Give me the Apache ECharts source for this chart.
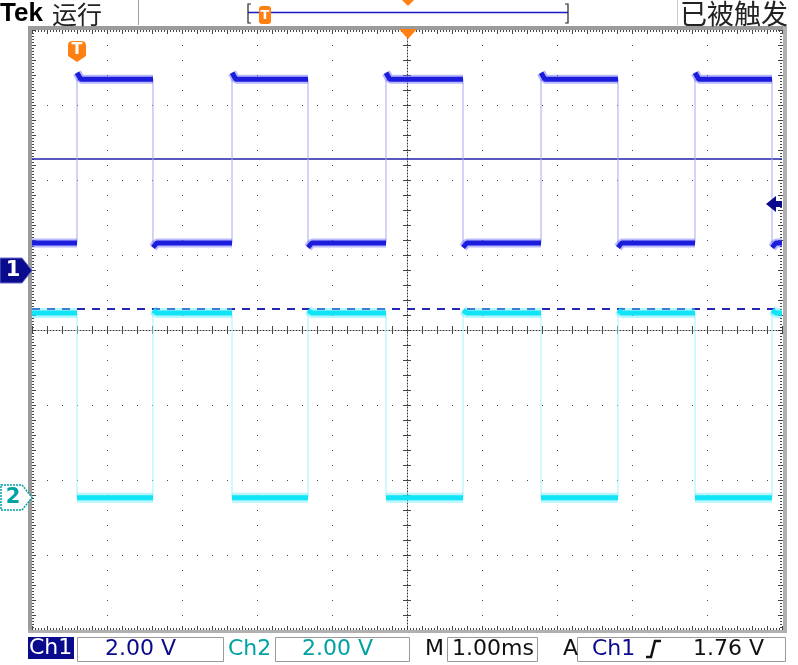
<!DOCTYPE html>
<html><head><meta charset="utf-8">
<script src="https://cdn.jsdelivr.net/npm/echarts@6/dist/echarts.min.js"></script>
<style>html,body{margin:0;padding:0;background:#fff}#c{width:798px;height:665px}</style>
</head><body><div id="c"></div>
<script>
// ---- data (time in ms, 0 = screen centre; levels in volts) ----
const riseTimes = [-4.40, -2.333, -0.28, 1.787, 3.84];   // Ch1 rising edges
const fallTimes = [-3.387, -1.32, 0.747, 2.813, 4.867];  // Ch1 falling edges
const ch1Levels = { high: 5.09, low: 0.72, highStart: 5.26, lowStart: 0.60 };
const ch2Levels = { high: 4.91, low: -0.02, highStart: 4.98, lowStart: -0.02 };
const settleMs = 0.05;
const timeRange = [-5, 5];
const ch1CursorLevels = { solid: 2.96, dashed: -1.02 };
const triggerLevel = 1.76;
const voltsPerDiv = 2;
const ch1OffsetDiv = 0.8, ch2OffsetDiv = -2.227;
const footerTexts = { ch1Scale: '2.00 V', ch2Scale: '2.00 V', time: '1.00ms', trig: '1.76 V' };

// ---- build waveforms ----
function buildLevels(lv, invert) {
  const out = [];
  const edges = [];
  riseTimes.forEach((r, i) => { edges.push({ t: r }); edges.push({ t: fallTimes[i] }); });
  edges.sort((a, b) => a.t - b.t);
  let prevT = timeRange[0], first = true;
  let state = invert; // Ch1 starts low, Ch2 starts high
  edges.concat([{ t: timeRange[1] }]).forEach(e => {
    const lvl = state ? lv.high : lv.low;
    if (!first) {
      out.push([prevT, state ? lv.highStart : lv.lowStart]);
      out.push([Math.min(prevT + settleMs, e.t), lvl]);
    } else out.push([prevT, lvl]);
    out.push([e.t, lvl]);
    out.push([e.t, null]);
    prevT = e.t; first = false; state = !state;
  });
  return out;
}
function buildSteps(lv) {
  const out = [];
  riseTimes.forEach((r, i) => {
    out.push([r, lv.low], [r, lv.high], [r, null]);
    out.push([fallTimes[i], lv.low], [fallTimes[i], lv.high], [fallTimes[i], null]);
  });
  return out;
}
const ch1Data = buildLevels(ch1Levels, false);
const ch2Data = buildLevels(ch2Levels, true);
const ch1Edges = buildSteps(ch1Levels);
const ch2Edges = buildSteps(ch2Levels);

const chart = echarts.init(document.getElementById('c'), null, { renderer: 'canvas' });
const G = { left: 32, top: 30, width: 750, height: 600 };
const dotGrid = { color: '#444', width: 1, type: [1, 14] };
const tickStyle = { color: '#444', width: 1 };
const ch1Axis = { min: (-4 - ch1OffsetDiv) * voltsPerDiv, max: (4 - ch1OffsetDiv) * voltsPerDiv };
const ch2Axis = { min: (-4 - ch2OffsetDiv) * voltsPerDiv, max: (4 - ch2OffsetDiv) * voltsPerDiv };
const hiddenAxis = { show: false, type: 'value', splitLine: { show: false } };

const font = '"DejaVu Sans", sans-serif';
const cjk = '"Noto Sans CJK SC", sans-serif';
const navy = '#0a0a8c', teal = '#00a2a2', orange = '#ff7f10';

function txt(x, y, s, fill, size, weight, family, align) {
  return { type: 'text', x, y, style: { text: s, fill, font: (weight || 'normal') + ' ' + size + 'px ' + (family || font), textVerticalAlign: 'middle', textAlign: align || 'left' }, z: 100 };
}
function box(x, y, w, h) {
  return { type: 'rect', shape: { x: x + 0.5, y: y + 0.5, width: w, height: h }, style: { fill: '#fff', stroke: '#9a9a9a', lineWidth: 1 }, z: 90 };
}

const graphics = [
  // frame
  { type: 'rect', shape: { x: 28, y: 26, width: 4, height: 607 }, style: { fill: '#9b9b9b' }, z: 50 },
  { type: 'rect', shape: { x: 28, y: 26, width: 759, height: 4 }, style: { fill: '#9b9b9b' }, z: 50 },
  { type: 'rect', shape: { x: 783, y: 26, width: 4, height: 607 }, style: { fill: '#b0b0b0' }, z: 50 },
  { type: 'rect', shape: { x: 28, y: 630, width: 759, height: 3 }, style: { fill: '#b0b0b0' }, z: 50 },
  // header
  txt(0, 14, 'Tek', '#000', 26, 'bold', '"Liberation Sans", sans-serif'),
  txt(52, 14, '运行', '#222', 25, 'normal', cjk),
  { type: 'line', shape: { x1: 138.5, y1: 0, x2: 138.5, y2: 25 }, style: { stroke: '#a0a0a0', lineWidth: 1 }, z: 60 },
  { type: 'line', shape: { x1: 677.5, y1: 0, x2: 677.5, y2: 25 }, style: { stroke: '#c8c8c8', lineWidth: 1 }, z: 60 },
  txt(680, 14, '已被触发', '#222', 27, 'normal', cjk),
  { type: 'polyline', shape: { points: [[251, 4], [248, 4], [248, 23], [251, 23]] }, style: { stroke: '#222', lineWidth: 1.2, fill: null }, z: 60 },
  { type: 'polyline', shape: { points: [[565, 4], [568, 4], [568, 23], [565, 23]] }, style: { stroke: '#222', lineWidth: 1.2, fill: null }, z: 60 },
  { type: 'line', shape: { x1: 248, y1: 12.5, x2: 568, y2: 12.5 }, style: { stroke: '#1a1ac0', lineWidth: 1.5 }, z: 60 },
  { type: 'rect', shape: { x: 259, y: 6, width: 12, height: 18, r: 3 }, style: { fill: orange }, z: 70 },
  txt(265, 15.5, 'T', '#fff', 13, 'bold', font, 'center'),
  { type: 'polygon', shape: { points: [[402, 0], [414, 0], [408, 6]] }, style: { fill: orange }, z: 70 },
  // orange markers in graticule
  { type: 'polygon', shape: { points: [[399, 29], [417, 29], [408, 39]] }, style: { fill: orange }, z: 70 },
  { type: 'polygon', shape: { points: [[68, 45], [69, 42], [72, 41], [82, 41], [85, 42], [86, 45], [86, 56], [77, 62], [68, 56]] }, style: { fill: orange }, z: 70 },
  txt(77, 50, 'T', '#fff', 16, 'bold', font, 'center'),
  // channel markers
  { type: 'polygon', shape: { points: [[0, 258], [22, 258], [32, 270.5], [22, 283], [0, 283]] }, style: { fill: navy, stroke: '#6a6ad0', lineWidth: 1 }, z: 70 },
  txt(13, 271, '1', '#fff', 21, 'bold', font, 'center'),
  { type: 'polygon', shape: { points: [[1, 485], [22, 485], [32, 497.5], [22, 510], [1, 510]] }, style: { fill: '#fff', stroke: teal, lineWidth: 1.5, lineDash: [2, 1] }, z: 70 },
  txt(13, 498, '2', teal, 21, 'bold', font, 'center'),
  // footer
  { type: 'rect', shape: { x: 28, y: 637, width: 46, height: 22 }, style: { fill: navy }, z: 90 },
  txt(29, 648, 'Ch1', '#fff', 22, 'normal'),
  box(77, 637, 146, 24), txt(105, 649, footerTexts.ch1Scale, navy, 22),
  txt(228, 649, 'Ch2', teal, 22),
  box(275, 637, 134, 24), txt(302, 649, footerTexts.ch2Scale, teal, 22),
  txt(425, 649, 'M', '#111', 22),
  box(447, 637, 90, 24), txt(452, 649, footerTexts.time, '#111', 22),
  txt(563, 649, 'A', '#111', 22),
  box(577, 637, 208, 24), txt(592, 649, 'Ch1', navy, 22),
  { type: 'polyline', shape: { points: [[646, 657], [651, 657], [655, 641], [661, 641]] }, style: { stroke: '#111', lineWidth: 2.5, fill: null }, z: 95 },
  txt(693, 649, footerTexts.trig, '#111', 22)
];

function borderX(pos) {
  return { type: 'value', min: timeRange[0], max: timeRange[1], interval: 0.2, position: pos,
    axisLine: { show: false, onZero: false }, axisTick: { show: true, inside: true, length: 4, lineStyle: tickStyle },
    minorTick: { show: true, splitNumber: 5, length: 2, lineStyle: tickStyle }, axisLabel: { show: false }, splitLine: { show: false } };
}
function borderY(pos) {
  return { type: 'value', min: -4, max: 4, interval: 0.2, position: pos,
    axisLine: { show: false, onZero: false }, axisTick: { show: true, inside: true, length: 4, lineStyle: tickStyle },
    minorTick: { show: true, splitNumber: 5, length: 2, lineStyle: tickStyle }, axisLabel: { show: false }, splitLine: { show: false } };
}

chart.setOption({
  animation: false,
  backgroundColor: '#fff',
  grid: { left: G.left, top: G.top, width: G.width, height: G.height, containLabel: false },
  xAxis: [
    { type: 'value', min: timeRange[0], max: timeRange[1], interval: 1, position: 'bottom',
      axisLine: { show: true, onZero: true, onZeroAxisIndex: 0, lineStyle: { color: '#333', width: 1, type: [1, 2] } },
      axisTick: { show: true, length: 4, lineStyle: tickStyle }, minorTick: { show: true, splitNumber: 5, length: 4, lineStyle: tickStyle },
      axisLabel: { show: false }, splitLine: { show: true, lineStyle: dotGrid }, z: 5 },
    { type: 'value', min: timeRange[0], max: timeRange[1], interval: 1, position: 'top',
      axisLine: { show: true, onZero: true, onZeroAxisIndex: 0, lineStyle: { opacity: 0 } },
      axisTick: { show: true, length: 4, lineStyle: tickStyle }, minorTick: { show: true, splitNumber: 5, length: 4, lineStyle: tickStyle },
      axisLabel: { show: false }, splitLine: { show: false } },
    borderX('top'), borderX('bottom')
  ],
  yAxis: [
    { type: 'value', min: -4, max: 4, interval: 1, position: 'left',
      axisLine: { show: true, onZero: true, onZeroAxisIndex: 0, lineStyle: { color: '#333', width: 1, type: [1, 2] } },
      axisTick: { show: true, length: 4, lineStyle: tickStyle }, minorTick: { show: true, splitNumber: 5, length: 4, lineStyle: tickStyle },
      axisLabel: { show: false }, splitLine: { show: true, lineStyle: dotGrid }, z: 5 },
    { type: 'value', min: -4, max: 4, interval: 1, position: 'right',
      axisLine: { show: true, onZero: true, onZeroAxisIndex: 0, lineStyle: { opacity: 0 } },
      axisTick: { show: true, length: 4, lineStyle: tickStyle }, minorTick: { show: true, splitNumber: 5, length: 4, lineStyle: tickStyle },
      axisLabel: { show: false }, splitLine: { show: false } },
    Object.assign({}, hiddenAxis, ch1Axis),
    Object.assign({}, hiddenAxis, ch2Axis),
    borderY('left'), borderY('right')
  ],
  series: [
    { name: 'Ch2 edges', type: 'line', yAxisIndex: 3, data: ch2Edges, showSymbol: false, connectNulls: false,
      lineStyle: { color: '#9ff3ff', width: 1 }, z: 10, silent: true },
    { name: 'Ch2 halo', type: 'line', yAxisIndex: 3, data: ch2Data, showSymbol: false, connectNulls: false,
      lineStyle: { color: 'rgba(90,235,255,0.45)', width: 10 }, z: 11, silent: true },
    { name: 'Ch2', type: 'line', yAxisIndex: 3, data: ch2Data, showSymbol: false, connectNulls: false,
      lineStyle: { color: '#10e4f6', width: 5 }, z: 12, silent: true },
    { name: 'Ch1 edges', type: 'line', yAxisIndex: 2, data: ch1Edges, showSymbol: false, connectNulls: false,
      lineStyle: { color: '#a9a9f2', width: 1 }, z: 13, silent: true },
    { name: 'Ch1 halo', type: 'line', yAxisIndex: 2, data: ch1Data, showSymbol: false, connectNulls: false,
      lineStyle: { color: 'rgba(100,100,250,0.45)', width: 9 }, z: 14, silent: true },
    { name: 'Ch1', type: 'line', yAxisIndex: 2, data: ch1Data, showSymbol: false, connectNulls: false,
      lineStyle: { color: '#1c1cdc', width: 5 }, z: 15, silent: true,
      markLine: { silent: true, symbol: 'none', label: { show: false },
        data: [
          { yAxis: ch1CursorLevels.solid, lineStyle: { color: '#2020a8', width: 1.5, type: 'solid' } },
          { yAxis: ch1CursorLevels.dashed, lineStyle: { color: '#2626b4', width: 2, type: [8, 7] } }
        ] } }
  ],
  graphic: graphics
});

// trigger level arrow on the right edge, placed through the Ch1 scale
const ty = chart.convertToPixel({ yAxisIndex: 2 }, triggerLevel);
chart.setOption({ graphic: graphics.concat([
  { type: 'polygon', shape: { points: [[766, ty], [776, ty - 8], [776, ty - 3], [782, ty - 3], [782, ty + 3], [776, ty + 3], [776, ty + 8]] }, style: { fill: navy }, z: 80 }
]) });
</script></body></html>
